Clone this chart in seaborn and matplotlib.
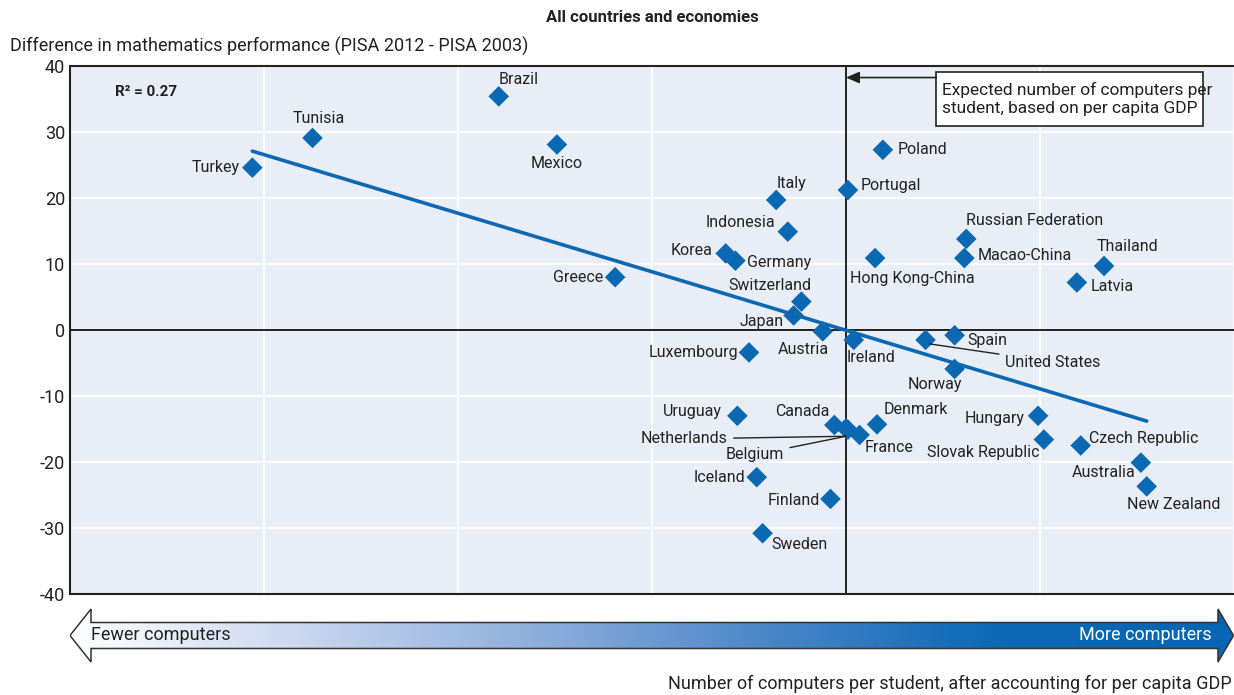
import numpy as np
import pandas as pd
import matplotlib
matplotlib.use("Agg")
import matplotlib.pyplot as plt
import seaborn as sns
from matplotlib.colors import LinearSegmentedColormap
from matplotlib.patches import Polygon, Rectangle

# data (x: computers per student vs. expected, y: score change)
countries = ["Brazil", "Tunisia", "Turkey", "Mexico", "Poland", "Portugal", "Italy",
             "Indonesia", "Korea", "Germany", "Greece", "Switzerland", "Japan", "Austria",
             "Ireland", "Luxembourg", "Hong Kong-China", "Russian Federation", "Macao-China",
             "Thailand", "Latvia", "Spain", "United States", "Norway", "Uruguay", "Canada",
             "Netherlands", "Belgium", "Denmark", "France", "Hungary", "Slovak Republic",
             "Czech Republic", "Australia", "New Zealand", "Iceland", "Finland", "Sweden"]
computers = [-1.79, -2.75, -3.06, -1.49, 0.19, 0.01, -0.36,
             -0.30, -0.62, -0.57, -1.19, -0.23, -0.27, -0.12,
             0.04, -0.50, 0.15, 0.62, 0.61,
             1.33, 1.19, 0.56, 0.41, 0.56, -0.56, -0.06,
             0.00, 0.01, 0.16, 0.07, 0.99, 1.02,
             1.21, 1.52, 1.55, -0.46, -0.08, -0.43]
math_diff = [35.4, 29.1, 24.6, 28.1, 27.3, 21.2, 19.7,
             14.9, 11.6, 10.5, 8.0, 4.3, 2.2, -0.2,
             -1.5, -3.4, 10.9, 13.8, 10.9,
             9.7, 7.2, -0.8, -1.5, -5.9, -13.0, -14.4,
             -14.9, -15.1, -14.3, -15.9, -13.0, -16.6,
             -17.5, -20.1, -23.7, -22.3, -25.6, -30.8]

trend_x = [-3.06, 1.55]
trend_y = [27.1, -13.8]
r_squared = 0.27

df = pd.DataFrame({"country": countries, "computers": computers, "math_diff": math_diff})

# label placement: (dx px, dy px, ha)
label_pos = {
    "Brazil": (0, 17, "left"), "Tunisia": (6, 19, "center"), "Turkey": (-13, 0, "right"),
    "Mexico": (0, -19, "center"), "Poland": (15, 0, "left"), "Portugal": (13, 5, "left"),
    "Italy": (0, 16, "left"), "Indonesia": (-13, 9, "right"), "Korea": (-13, 3, "right"),
    "Germany": (12, -2, "left"), "Greece": (-12, 0, "right"), "Switzerland": (-32, 16, "center"),
    "Japan": (-10, -6, "right"), "Austria": (-19, -18, "center"), "Ireland": (17, -18, "center"),
    "Luxembourg": (-11, 0, "right"), "Hong Kong-China": (37, -20, "center"),
    "Russian Federation": (0, 18, "left"), "Macao-China": (13, 3, "left"),
    "Thailand": (23, 19, "center"), "Latvia": (14, -4, "left"), "Spain": (13, -5, "left"),
    "Norway": (-20, -16, "center"), "Uruguay": (-15, 4, "right"), "Canada": (-5, 14, "right"),
    "Denmark": (7, 15, "left"), "France": (5, -13, "left"), "Hungary": (-13, -3, "right"),
    "Slovak Republic": (-4, -13, "right"), "Czech Republic": (8, 7, "left"),
    "Australia": (-5, -10, "right"), "New Zealand": (27, -18, "center"),
    "Iceland": (-12, 0, "right"), "Finland": (-11, -2, "right"), "Sweden": (9, -11, "left"),
}
leader_labels = {
    "United States": ((0.43, -2.1), (0.82, -4.85), "left"),
    "Netherlands": ((0.0, -16.1), (-0.61, -16.5), "right"),
    "Belgium": ((0.0, -16.1), (-0.32, -18.9), "right"),
}

blue = "#0b68b3"
sns.set_style("white")
plt.rcParams["font.family"] = ["Roboto", "DejaVu Sans"]
plt.rcParams["axes.unicode_minus"] = False

fig = plt.figure(figsize=(12.34, 6.95), dpi=100)
W, H = 1234, 695
ax = fig.add_axes([70 / W, 1 - 594 / H, (W - 70) / W, (594 - 66) / H])
ax.set_facecolor("#e9edf6")

ax.set_xlim(-4, 2)
ax.set_ylim(-40, 40)
ax.set_xticks(np.arange(-4, 3, 1))
ax.set_yticks(np.arange(-40, 41, 10))
ax.set_xticklabels([])
ax.grid(True, color="white", lw=1.2)
ax.set_axisbelow(True)
ax.tick_params(axis="both", length=0, labelsize=13, colors="#222222")
for side in ["left", "bottom", "top"]:
    ax.spines[side].set_color("#222222")
    ax.spines[side].set_linewidth(1.5)
ax.spines["right"].set_visible(False)

ax.axhline(0, color="#222222", lw=1.4, zorder=2)
ax.axvline(0, color="#222222", lw=1.4, zorder=2)

sns.lineplot(x=trend_x, y=trend_y, color=blue, lw=2.6, ax=ax, zorder=3)
sns.scatterplot(data=df, x="computers", y="math_diff", marker="D", s=110,
                color=blue, edgecolor="none", ax=ax, zorder=4)
ax.set_xlabel("")
ax.set_ylabel("")

fs = 11.5
for _, row in df.iterrows():
    name = row["country"]
    if name in label_pos:
        dx, dy, ha = label_pos[name]
        ax.annotate(name, (row["computers"], row["math_diff"]), xytext=(dx, dy),
                    textcoords="offset pixels", ha=ha, va="center", fontsize=fs,
                    color="#222222", zorder=5)
for name, (xy, xyt, ha) in leader_labels.items():
    ax.annotate(name, xy, xytext=xyt, ha=ha, va="center", fontsize=fs, color="#222222",
                arrowprops=dict(arrowstyle="-", color="#222222", lw=1, shrinkA=2, shrinkB=0),
                zorder=5)

ax.text(-3.77, 36.0, f"R\u00b2 = {r_squared:.2f}", fontsize=11, fontweight="bold",
        color="#222222", va="center")

# note box with arrow to the vertical reference line
ax.add_patch(Rectangle((0.464, 30.95), 1.375, 8.2, fc="white", ec="#222222", lw=1.2, zorder=6))
ax.text(0.495, 35.05, "Expected number of computers per\nstudent, based on per capita GDP",
        fontsize=12.5, color="#222222", va="center", ha="left", linespacing=1.25, zorder=7)
ax.annotate("", xy=(0.0, 38.25), xytext=(0.465, 38.25),
            arrowprops=dict(arrowstyle="-|>,head_length=0.8,head_width=0.35",
                            color="#222222", lw=1.2, shrinkA=0, shrinkB=0), zorder=6)

# gradient arrow under the plot
ax_arr = fig.add_axes([70 / W, 1 - 663 / H, (W - 70) / W, 55 / H])
aw, ah = W - 70, 55
ax_arr.set_xlim(0, aw)
ax_arr.set_ylim(0, ah)
ax_arr.axis("off")
mid = ah / 2
verts = [(0, mid), (21, ah - 1), (21, mid + 13), (aw - 16, mid + 13), (aw - 16, ah - 1),
         (aw - 0.5, mid), (aw - 16, 1), (aw - 16, mid - 13), (21, mid - 13), (21, 1)]
cmap = LinearSegmentedColormap.from_list(
    "arrow", ["#ffffff", "#c9d6ee", "#8eaedc", "#4a86c8", "#0a68b4", "#0766b3"])
grad = np.linspace(0, 1, 512).reshape(1, -1)
im = ax_arr.imshow(grad, cmap=cmap, aspect="auto", extent=[0, aw, 0, ah])
poly = Polygon(verts, closed=True, fc="none", ec="#333333", lw=1.1)
ax_arr.add_patch(poly)
im.set_clip_path(poly)
ax_arr.text(21, mid, "Fewer computers", fontsize=13, color="#222222", va="center", ha="left")
ax_arr.text(aw - 22, mid, "More computers", fontsize=13, color="white", va="center", ha="right")

fig.text(652 / W, 1 - 17 / H, "All countries and economies", fontsize=12, fontweight="bold",
         ha="center", va="center", color="#222222")
fig.text(10 / W, 1 - 46 / H, "Difference in mathematics performance (PISA 2012 - PISA 2003)",
         fontsize=13, ha="left", va="center", color="#222222")
fig.text(1232 / W, 1 - 684 / H, "Number of computers per student, after accounting for per capita GDP",
         fontsize=13, ha="right", va="center", color="#222222")

fig.savefig("out.png", dpi=100)
